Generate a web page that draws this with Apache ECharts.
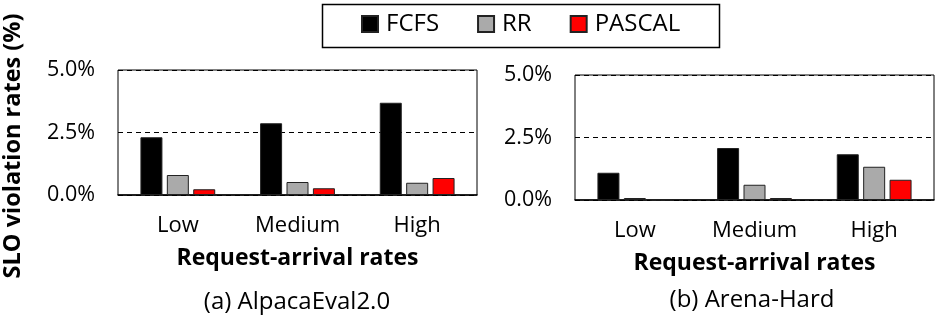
<!DOCTYPE html>
<html>
<head>
<meta charset="utf-8">
<script src="https://cdn.jsdelivr.net/npm/echarts@6/dist/echarts.min.js"></script>
<style>html,body{margin:0;padding:0;background:#fff}#c{width:937px;height:315px}</style>
</head>
<body>
<div id="c"></div>
<script>
const categories = ['Low', 'Medium', 'High'];
const seriesNames = ['FCFS', 'RR', 'PASCAL'];
const yTicks = [0, 2.5, 5];
// SLO violation rates (%) — (a) AlpacaEval2.0
const alpacaFCFS = [2.31, 2.87, 3.69];
const alpacaRR = [0.80, 0.52, 0.49];
const alpacaPASCAL = [0.23, 0.27, 0.68];
// (b) Arena-Hard
const arenaFCFS = [1.09, 2.08, 1.83];
const arenaRR = [0.08, 0.61, 1.33];
const arenaPASCAL = [0.00, 0.08, 0.81];
const subtitles = ['(a) AlpacaEval2.0', '(b) Arena-Hard'];
const xName = 'Request-arrival rates';
const yName = 'SLO violation rates (%)';

const FONT = 'Open Sans';
const colors = {FCFS: '#000000', RR: '#aaaaaa', PASCAL: '#ff0000'};
const grids = [
  {left: 118, top: 70, width: 359, height: 125},
  {left: 575, top: 75, width: 359, height: 125}
];
const data = [[alpacaFCFS, alpacaRR, alpacaPASCAL], [arenaFCFS, arenaRR, arenaPASCAL]];

const chart = echarts.init(document.getElementById('c'), null, {renderer: 'canvas'});
const xAxis = [], yAxis = [], series = [];
grids.forEach((g, i) => {
  xAxis.push({
    type: 'category', gridIndex: i, data: categories,
    axisLine: {lineStyle: {color: '#000', width: 1.5}},
    axisTick: {show: false},
    axisLabel: {color: '#000', fontFamily: FONT, fontSize: 22, margin: 20},
    name: xName, nameLocation: 'middle', nameGap: 52,
    nameTextStyle: {color: '#000', fontFamily: FONT, fontSize: 23, fontWeight: 'bold'}
  });
  yAxis.push({
    type: 'value', gridIndex: i, min: yTicks[0], max: yTicks[yTicks.length - 1], interval: yTicks[1] - yTicks[0],
    axisLine: {show: false}, axisTick: {show: false},
    axisLabel: {color: '#000', fontFamily: FONT, fontSize: 21.5, margin: 23,
      formatter: v => v.toFixed(1) + '%'},
    splitLine: {show: true, lineStyle: {color: '#000', type: [5, 4], width: 1}}
  });
  seriesNames.forEach((n, k) => {
    series.push({
      type: 'bar', name: n, xAxisIndex: i, yAxisIndex: i, data: data[i][k],
      barWidth: 22, barGap: '20%',
      itemStyle: {color: colors[n], borderColor: '#222', borderWidth: 1}
    });
  });
});

chart.setOption({
  animation: false,
  grid: grids.map(g => Object.assign({show: true, borderColor: '#000', borderWidth: 1, backgroundColor: 'transparent'}, g)),
  xAxis, yAxis, series,
  legend: {
    data: seriesNames, left: 361, top: 12, padding: 0,
    icon: 'rect', itemWidth: 16, itemHeight: 16, itemGap: 38,
    textStyle: {color: '#000', fontFamily: FONT, fontSize: 24, padding: [0, 0, 0, 3]}
  },
  graphic: [
    {type: 'rect', left: 320, top: 2, shape: {width: 397, height: 43},
      style: {fill: 'none', stroke: '#000', lineWidth: 1.5}, z: 0},
    {type: 'text', x: 13, y: 146, rotation: Math.PI / 2,
      style: {text: yName, fontFamily: FONT, fontSize: 23.5, fontWeight: 'bold', fill: '#000', align: 'center', verticalAlign: 'middle'}},
    {type: 'text', x: 297, y: 302,
      style: {text: subtitles[0], fontFamily: FONT, fontSize: 24, fill: '#000', align: 'center', verticalAlign: 'middle'}},
    {type: 'text', x: 752, y: 300,
      style: {text: subtitles[1], fontFamily: FONT, fontSize: 24, fill: '#000', align: 'center', verticalAlign: 'middle'}}
  ]
});
</script>
</body>
</html>
